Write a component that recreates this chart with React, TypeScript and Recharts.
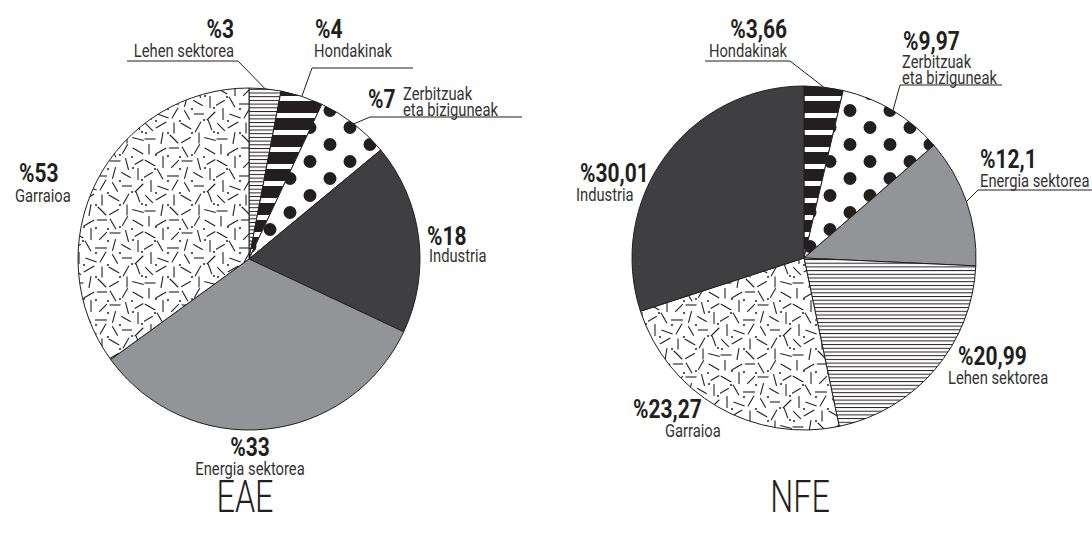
import React from "react";
import { PieChart, Pie, Cell } from "recharts";

// EAE pie, clockwise from 12 o'clock
const eaeNames = ["Lehen sektorea", "Hondakinak", "Zerbitzuak eta biziguneak", "Industria", "Energia sektorea", "Garraioa"];
const eaeValues = [3, 4, 7, 18, 33, 35];
const eaeLabels = ["%3", "%4", "%7", "%18", "%33", "%53"];

// NFE pie, clockwise from 12 o'clock
const nfeNames = ["Hondakinak", "Zerbitzuak eta biziguneak", "Energia sektorea", "Lehen sektorea", "Garraioa", "Industria"];
const nfeValues = [3.66, 9.97, 12.1, 20.99, 23.27, 30.01];
const nfeLabels = ["%3,66", "%9,97", "%12,1", "%20,99", "%23,27", "%30,01"];

const nameLines: Record<string, string[]> = {
  "Zerbitzuak eta biziguneak": ["Zerbitzuak", "eta biziguneak"],
};

const fills: Record<string, string> = {
  "Lehen sektorea": "url(#hlines)",
  Hondakinak: "url(#stripes)",
  "Zerbitzuak eta biziguneak": "url(#dots)",
  Industria: "#3f3f41",
  "Energia sektorea": "#939497",
  Garraioa: "url(#dashes)",
};

const FONT = "Roboto, 'Liberation Sans', sans-serif";
const INK = "#231f20";

type Spot = { x: number; y: number; anchor?: "start" | "middle" | "end" };
type LabelPos = { value: Spot; name: Spot; elbow?: [number, number]; underEnd?: number };

// label placement, offsets from pie centre
const eaeLayout: LabelPos[] = [
  { value: { x: -15, y: -221, anchor: "end" }, name: { x: -15, y: -202, anchor: "end" }, elbow: [-11, -198], underEnd: -122 },
  { value: { x: 66, y: -221 }, name: { x: 65, y: -202 }, elbow: [63, -191], underEnd: 164 },
  { value: { x: 119, y: -151 }, name: { x: 154, y: -159 }, elbow: [121, -142], underEnd: 273 },
  { value: { x: 178, y: -14 }, name: { x: 180, y: 3 } },
  { value: { x: 1, y: 197, anchor: "middle" }, name: { x: 1, y: 216, anchor: "middle" } },
  { value: { x: -230, y: -77 }, name: { x: -234, y: -57 } },
];

const nfeLayout: LabelPos[] = [
  { value: { x: -17, y: -220, anchor: "end" }, name: { x: -17, y: -201, anchor: "end" }, elbow: [-14, -197], underEnd: -99 },
  { value: { x: 99, y: -208 }, name: { x: 98, y: -190 }, elbow: [96, -173], underEnd: 198 },
  { value: { x: 176, y: -90 }, name: { x: 176, y: -71 }, elbow: [174, -68], underEnd: 293 },
  { value: { x: 154, y: 107 }, name: { x: 144, y: 126 } },
  { value: { x: -171, y: 160 }, name: { x: -139, y: 179 } },
  { value: { x: -224, y: -76 }, name: { x: -228, y: -57 } },
];

const RAD = Math.PI / 180;

// condensed text: the reference face is narrow, so squeeze a regular face horizontally
function Narrow(props: { x: number; y: number; anchor?: string; size: number; weight?: number | string; sx: number; fill: string; children: React.ReactNode }) {
  const { x, y, anchor, size, weight, sx, fill, children } = props;
  return (
    <text
      transform={`translate(${x},${y}) scale(${sx},1)`}
      textAnchor={anchor || "start"}
      fontFamily={FONT}
      fontSize={size}
      fontWeight={weight || "normal"}
      fill={fill}
    >
      {children}
    </text>
  );
}

function makeLabel(names: string[], labels: string[], layout: LabelPos[]) {
  return (p: any) => {
    const { cx, cy, midAngle, outerRadius, index } = p;
    const l = layout[index];
    const lines = nameLines[names[index]] || [names[index]];
    const ax = cx + outerRadius * Math.cos(-midAngle * RAD);
    const ay = cy + outerRadius * Math.sin(-midAngle * RAD);
    return (
      <g key={`lbl-${index}`}>
        {l.elbow && (
          <polyline
            points={`${ax},${ay} ${cx + l.elbow[0]},${cy + l.elbow[1]} ${cx + (l.underEnd as number)},${cy + l.elbow[1]}`}
            fill="none"
            stroke={INK}
            strokeWidth={1}
          />
        )}
        <Narrow x={cx + l.value.x} y={cy + l.value.y} anchor={l.value.anchor} size={25} weight="bold" sx={0.84} fill={INK}>
          {labels[index]}
        </Narrow>
        {lines.map((t, i) => (
          <Narrow key={i} x={cx + l.name.x} y={cy + l.name.y + i * 15.5} anchor={l.name.anchor} size={18} sx={0.82} fill="#333">
            {t}
          </Narrow>
        ))}
      </g>
    );
  };
}

const eaeData = eaeNames.map((n, i) => ({ name: n, value: eaeValues[i] }));
const nfeData = nfeNames.map((n, i) => ({ name: n, value: nfeValues[i] }));

// "Garraioa" texture tile: [centre x, centre y, angle, length] per stroke
const dashStrokes = [
  [5, 5, 90, 11], [17, 7, 150, 12], [30, 4, 0, 10], [41, 8, 60, 12], [53, 5, 120, 11], [66, 7, 30, 12],
  [6, 19, 30, 12], [19, 18, 90, 12], [31, 20, 135, 11], [43, 17, 0, 11], [55, 20, 75, 12], [67, 18, 150, 10],
  [4, 31, 150, 11], [16, 30, 60, 12], [29, 32, 0, 12], [42, 29, 105, 12], [54, 31, 30, 11], [66, 30, 90, 12],
  [7, 42, 90, 12], [19, 44, 20, 12], [31, 41, 120, 12], [43, 43, 60, 11], [55, 42, 0, 10], [67, 44, 135, 12],
  [5, 55, 45, 11], [17, 53, 150, 12], [30, 56, 90, 11], [42, 54, 30, 12], [54, 55, 120, 12], [66, 53, 70, 11],
  [6, 67, 0, 11], [18, 66, 100, 12], [30, 67, 45, 12], [42, 68, 150, 11], [55, 66, 90, 11], [66, 67, 15, 12],
];
const dashDots = [
  [12, 11], [24, 12], [36, 13], [48, 11], [60, 13], [11, 25], [36, 25], [61, 24], [24, 37],
  [48, 37], [12, 49], [36, 49], [60, 48], [24, 61], [48, 61], [70, 60], [2, 61], [70, 36],
];

export default function App() {
  return (
    <div style={{ position: "absolute", left: 0, top: 0, background: "#fff" }}>
      <PieChart width={1092} height={543}>
        <defs>
          <pattern id="hlines" patternUnits="userSpaceOnUse" width={10} height={3.7}>
            <rect width={10} height={3.7} fill="#fff" />
            <rect width={10} height={1} fill={INK} />
          </pattern>
          <pattern id="stripes" patternUnits="userSpaceOnUse" width={10} height={17}>
            <rect width={10} height={17} fill={INK} />
            <rect y={11} width={10} height={5} fill="#fff" />
          </pattern>
          <pattern id="dots" patternUnits="userSpaceOnUse" width={40} height={34}>
            <rect width={40} height={34} fill="#fff" />
            <circle cx={10} cy={8.5} r={6.5} fill={INK} />
            <circle cx={30} cy={25.5} r={6.5} fill={INK} />
          </pattern>
          <pattern id="dashes" patternUnits="userSpaceOnUse" width={72} height={72}>
            <rect width={72} height={72} fill="#fff" />
            {dashStrokes.map(([x, y, a, len], i) => {
              const dx = (Math.cos(a * RAD) * len) / 2;
              const dy = (Math.sin(a * RAD) * len) / 2;
              return <line key={i} x1={x - dx} y1={y - dy} x2={x + dx} y2={y + dy} stroke={INK} strokeWidth={1.1} />;
            })}
            {dashDots.map((d, i) => (
              <circle key={i} cx={d[0]} cy={d[1]} r={1} fill={INK} />
            ))}
          </pattern>
        </defs>
        <Pie
          data={eaeData}
          dataKey="value"
          cx={244}
          cy={254}
          outerRadius={171}
          startAngle={90}
          endAngle={-270}
          stroke={INK}
          strokeWidth={1}
          label={makeLabel(eaeNames, eaeLabels, eaeLayout)}
          labelLine={false}
          isAnimationActive={false}
        >
          {eaeData.map((d, i) => (
            <Cell key={i} fill={fills[d.name]} />
          ))}
        </Pie>
        <Pie
          data={nfeData}
          dataKey="value"
          cx={799}
          cy={253}
          outerRadius={172}
          startAngle={90}
          endAngle={-270}
          stroke={INK}
          strokeWidth={1}
          label={makeLabel(nfeNames, nfeLabels, nfeLayout)}
          labelLine={false}
          isAnimationActive={false}
        >
          {nfeData.map((d, i) => (
            <Cell key={i} fill={fills[d.name]} />
          ))}
        </Pie>
        <Narrow x={245} y={512} anchor="middle" size={45} weight={300} sx={0.72} fill={INK}>
          EAE
        </Narrow>
        <Narrow x={800} y={512} anchor="middle" size={45} weight={300} sx={0.72} fill={INK}>
          NFE
        </Narrow>
      </PieChart>
    </div>
  );
}
